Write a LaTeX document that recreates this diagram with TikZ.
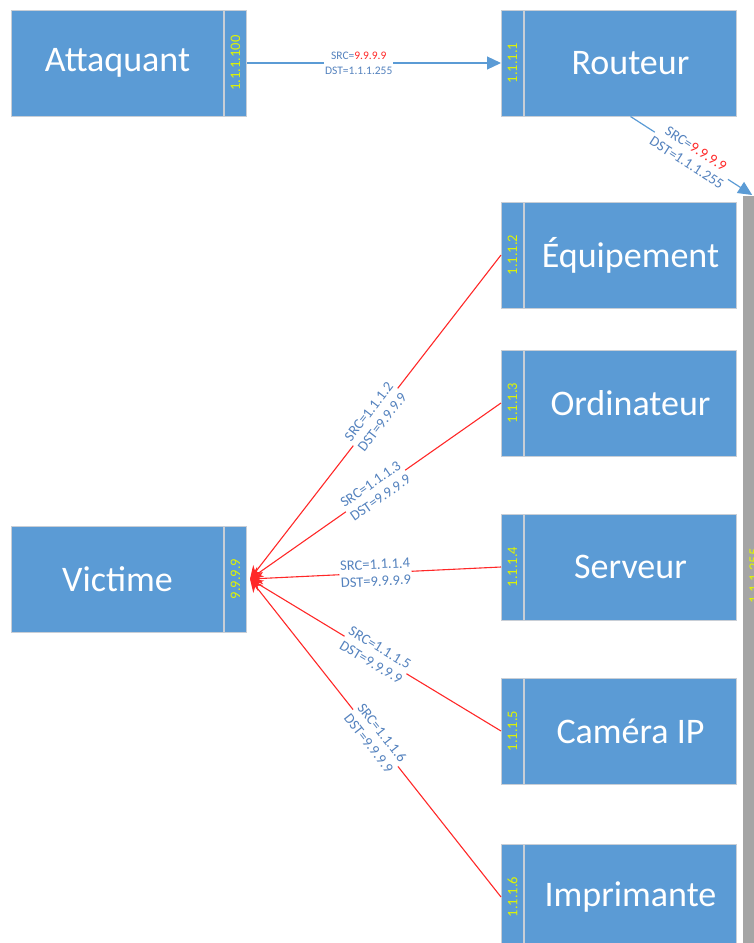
\documentclass[tikz,border=0pt]{standalone}
\usepackage{fontspec}
\setmainfont{Carlito}
\usetikzlibrary{arrows.meta,calc}
\definecolor{boxblue}{RGB}{91,155,213}
\definecolor{boxedge}{RGB}{200,206,214}
\definecolor{ipyellow}{RGB}{225,245,0}
\definecolor{pktblue}{RGB}{84,130,190}
\definecolor{pktred}{RGB}{255,40,40}
\definecolor{busgray}{RGB}{165,165,165}
\tikzset{
  hostbox/.style={draw=boxedge, fill=boxblue, line width=1pt, inner sep=0pt, minimum width=212pt, minimum height=106pt, text=white, font=\fontsize{36}{40}\selectfont},
  ipstrip/.style={draw=boxedge, fill=boxblue, line width=1pt, inner sep=0pt, minimum width=22pt, minimum height=106pt},
  iptext/.style={rotate=90, text=ipyellow, inner sep=0pt, font=\fontsize{14.5}{15}\selectfont},
  pkt/.style={fill=white, inner sep=1pt, text=pktblue, align=center, font=\fontsize{11.5}{15}\selectfont},
  pktbig/.style={pkt, font=\fontsize{14.5}{17}\selectfont},
  fwd/.style={draw=boxblue, line width=1.2pt, -{Triangle[length=14pt,width=13pt]}},
  reply/.style={draw=pktred, line width=1.1pt, -{Stealth[length=13pt,width=12pt]}},
}
\def\hostR(#1,#2,#3,#4,#5){
  \node[hostbox, anchor=west] (#1) at (#2,#3) {#4};
  \node[ipstrip, anchor=west] (#1ip) at (#1.east) {};
  \node[iptext] (#1ipt) at (#1ip.center) {#5};
}
\def\hostL(#1,#2,#3,#4,#5){
  \node[ipstrip, anchor=west] (#1ip) at (#2,#3) {};
  \node[hostbox, anchor=west] (#1) at (#1ip.east) {#4};
  \node[iptext] (#1ipt) at (#1ip.center) {#5};
}
\begin{document}
\begin{tikzpicture}[x=1pt,y=-1pt]
\useasboundingbox (0,0) rectangle (754,943);
\hostR(att,11,63,Attaquant,1.1.1.100)
\hostL(rtr,501,63,Routeur,1.1.1.1)
\hostR(vic,11,579,Victime,9.9.9.9)
\hostL(eqp,501,255,Équipement,1.1.1.2)
\hostL(ord,501,403,Ordinateur,1.1.1.3)
\hostL(srv,501,567,Serveur,1.1.1.4)
\hostL(cam,501,731,Caméra IP,1.1.1.5)
\hostL(imp,501,897,Imprimante,1.1.1.6)
% switch bar, cut by the page edge
\node[fill=busgray, inner sep=0pt, minimum width=22pt, minimum height=760pt, anchor=north west] (bus) at (743,196) {};
\node[iptext] (buslbl) at (bus.center |- 0,576) {1.1.1.255};
\coordinate (busin) at ($(bus.north)+(-2,-1)$);
\draw[fwd] (attip.east) -- node[pkt, pos=0.44] {SRC=\textcolor{pktred}{9.9.9.9}\\DST=1.1.1.255} (rtrip.west);
\draw[fwd] (rtr.south) -- node[pktbig, sloped] {SRC=\textcolor{pktred}{9.9.9.9}\\DST=1.1.1.255} (busin);
\foreach \d/\ip in {eqp/1.1.1.2, ord/1.1.1.3, srv/1.1.1.4, cam/1.1.1.5, imp/1.1.1.6}
  \draw[reply] (\d ip.west) -- node[pktbig, sloped] {SRC=\ip\\DST=9.9.9.9} ($(vicip.east)+(3,0)$);
\end{tikzpicture}
\end{document}
